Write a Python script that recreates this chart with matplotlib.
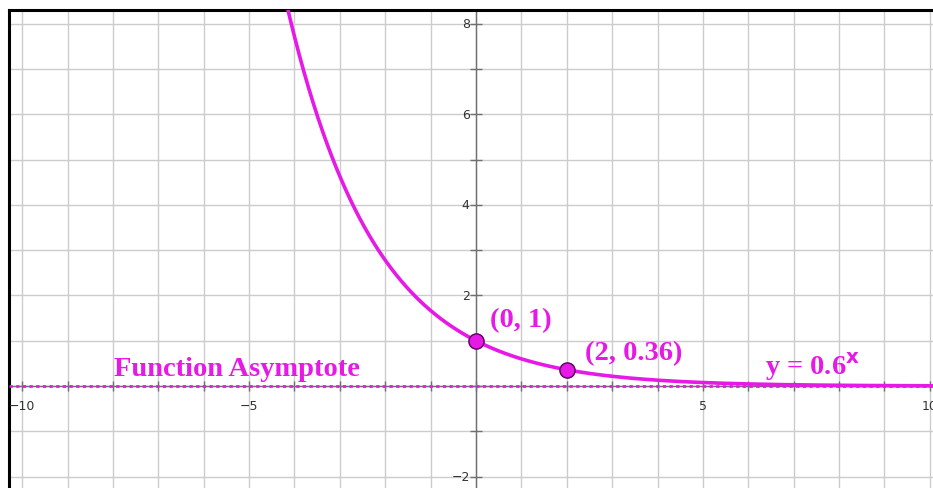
import numpy as np
import matplotlib.pyplot as plt

# function y = base ** x and labelled points
base = 0.6
point_x = [0, 2]
point_y = [1, 0.36]
point_labels = ['(0, 1)', '(2, 0.36)']
xtick_vals = [-10, -5, 5, 10]
ytick_vals = [-2, 2, 4, 6, 8]

magenta = '#e619e6'

fig = plt.figure(figsize=(9.33, 4.89), dpi=100)
ax = fig.add_axes([9 / 933, 0, 924 / 933, 478 / 489])

xmin, xmax = -10.29, 10.07
ymin, ymax = -2.25, 8.30
ax.set_xlim(xmin, xmax)
ax.set_ylim(ymin, ymax)

# unit grid
ax.set_xticks(np.arange(-10, 11, 1))
ax.set_yticks(np.arange(-2, 9, 1))
ax.grid(True, color='#cccccc', linewidth=1.0)
ax.tick_params(length=0, labelbottom=False, labelleft=False)
ax.set_axisbelow(True)

for side in ['right', 'bottom']:
    ax.spines[side].set_visible(False)
for side in ['top', 'left']:
    ax.spines[side].set_linewidth(2.2)
    ax.spines[side].set_color('black')

# coordinate axes
ax.axvline(0, color='#707070', linewidth=1.0, zorder=2)
ax.axhline(0, color='#707070', linewidth=1.0, zorder=2)
yt = np.arange(-2, 9, 1)
ax.plot(np.zeros_like(yt), yt, linestyle='none', marker='_', markersize=9,
        color='#707070', markeredgewidth=1.0, zorder=2)
xt = np.arange(-10, 11, 1)
ax.plot(xt, np.zeros_like(xt), linestyle='none', marker='|', markersize=7,
        color='#707070', markeredgewidth=1.0, zorder=2)

for v in xtick_vals:
    ax.text(v, -0.28, f'{v}'.replace('-', '\u2212'), ha='center', va='top',
            fontsize=9, color='#333333', family='DejaVu Sans')
for v in ytick_vals:
    ax.text(-0.14, v, f'{v}'.replace('-', '\u2212'), ha='right', va='center',
            fontsize=9, color='#333333', family='DejaVu Sans')

# asymptote
ax.axhline(0, color=magenta, linewidth=2.0, linestyle=(0, (1.2, 1.2)), zorder=3)

# curve
xs = np.linspace(xmin, xmax, 800)
ax.plot(xs, base ** xs, color=magenta, linewidth=2.6, zorder=4)

ax.scatter(point_x, point_y, s=120, color=magenta, edgecolor='#5a005a',
           linewidth=1.0, zorder=5)

font = dict(family='Liberation Serif', weight='bold', color=magenta, fontsize=20.5)
ax.text(point_x[0] + 0.3, point_y[0] + 0.47, point_labels[0], ha='left', va='center', **font)
ax.text(point_x[1] + 0.4, point_y[1] + 0.38, point_labels[1], ha='left', va='center', **font)
ax.text(-7.98, 0.38, 'Function Asymptote', ha='left', va='center', **font)
ax.text(6.37, 0.45, r'y = 0.6$^{\mathbf{x}}$', ha='left', va='center', **font)

fig.savefig('out.png', dpi=100)
